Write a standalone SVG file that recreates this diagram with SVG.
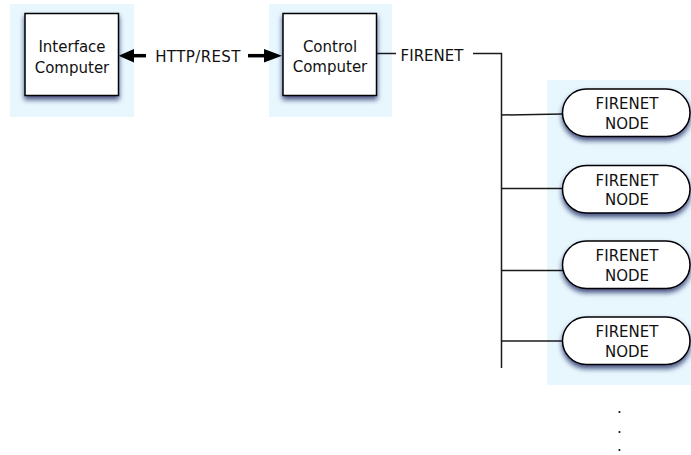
<svg xmlns="http://www.w3.org/2000/svg" width="691" height="455" viewBox="0 0 691 455">
<defs>
<filter id="sh" x="-20%" y="-20%" width="140%" height="150%">
<feDropShadow dx="0" dy="3.5" stdDeviation="2.5" flood-color="#0d1f55" flood-opacity="0.75"/>
</filter>
<style>
.bg{fill:#e8f7fe;}
.box{fill:#fff;stroke:#000;stroke-width:1.5;filter:url(#sh);}
.t{font-family:"DejaVu Sans","Liberation Sans",sans-serif;font-size:15px;fill:#111;text-anchor:middle;}
.ln{fill:none;stroke:#1a1a1a;stroke-width:1.5;}
.ar{fill:none;stroke:#000;stroke-width:3.5;}
.hd{fill:#000;}
</style>
</defs>
<rect class="bg" x="10" y="4" width="124" height="113"/>
<rect class="bg" x="269" y="4" width="123" height="113"/>
<rect class="bg" x="547" y="80" width="144" height="305"/>
<g id="connectors">
<path class="ar" d="M146,55.7 H132"/>
<polygon class="hd" points="118.5,55.7 134,49 134,62.4"/>
<path class="ar" d="M248,55.7 H266"/>
<polygon class="hd" points="282,55.7 264,49 264,62.4"/>
<text class="t" x="198" y="61.5" letter-spacing="0.4">HTTP/REST</text>
<path class="ln" d="M377,53.5 H396"/>
<text class="t" x="432" y="61">FIRENET</text>
<path class="ln" d="M473,53.5 H501.5 V368"/>
<path class="ln" d="M501.5,115 L563,114"/>
<path class="ln" d="M501.5,188.5 H563"/>
<path class="ln" d="M501.5,270.5 H563"/>
<path class="ln" d="M501.5,341 H563"/>
</g>
<g id="interface">
<rect class="box" x="25" y="13.5" width="93.5" height="82"/>
<text class="t" x="72" y="52">Interface</text>
<text class="t" x="72" y="73">Computer</text>
</g>
<g id="control">
<rect class="box" x="283" y="13.5" width="93.5" height="82"/>
<text class="t" x="330" y="52">Control</text>
<text class="t" x="330" y="72">Computer</text>
</g>
<g id="node1">
<rect class="box" x="562.5" y="89" width="127.5" height="47.5" rx="23.75"/>
<text class="t" x="627" y="109">FIRENET</text>
<text class="t" x="627" y="128.5">NODE</text>
</g>
<g id="node2">
<rect class="box" x="562.5" y="165.5" width="127.5" height="47.5" rx="23.75"/>
<text class="t" x="627" y="185.5">FIRENET</text>
<text class="t" x="627" y="205">NODE</text>
</g>
<g id="node3">
<rect class="box" x="562.5" y="241" width="127.5" height="47.5" rx="23.75"/>
<text class="t" x="627" y="261">FIRENET</text>
<text class="t" x="627" y="280.5">NODE</text>
</g>
<g id="node4">
<rect class="box" x="562.5" y="317" width="127.5" height="47.5" rx="23.75"/>
<text class="t" x="627" y="337">FIRENET</text>
<text class="t" x="627" y="356.5">NODE</text>
</g>
<g id="dots">
<text class="t" x="619.5" y="413">.</text>
<text class="t" x="619.5" y="432.5">.</text>
<text class="t" x="619.5" y="451">.</text>
</g>
</svg>
